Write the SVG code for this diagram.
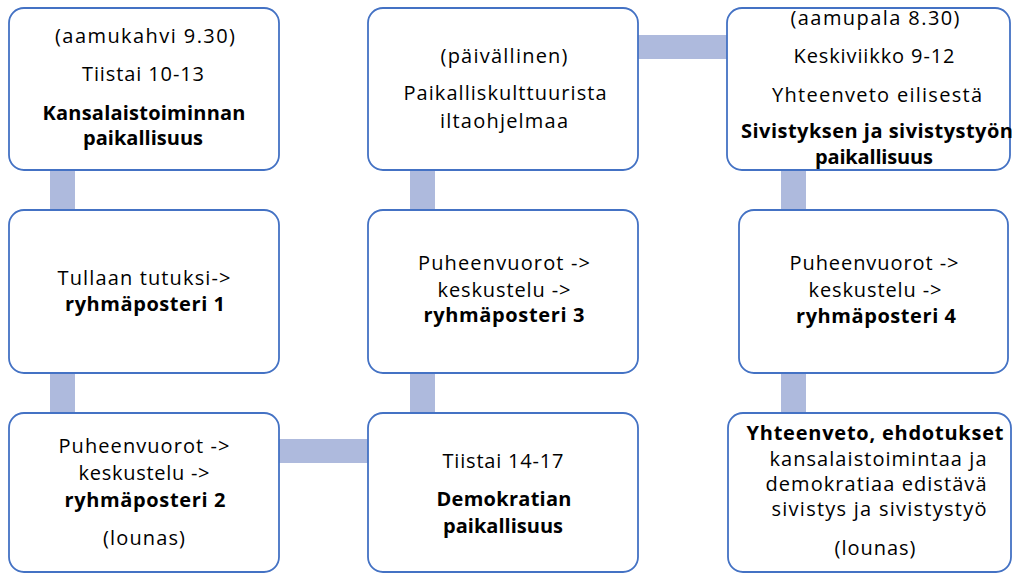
<svg xmlns="http://www.w3.org/2000/svg" width="1012" height="574" viewBox="0 0 1012 574">
<style>
.box{fill:#ffffff;stroke:#4472C4;stroke-width:1.8}
.con{fill:#AEBADD}
text{font-family:"Open Sans","Noto Sans","Liberation Sans",sans-serif;font-size:20px;fill:#000;text-anchor:middle}
.b{font-weight:bold}
</style>
<rect width="1012" height="574" fill="#ffffff"/>
<g id="connectors">
<rect class="con" x="50" y="168" width="25" height="44"/>
<rect class="con" x="50" y="371" width="25" height="44"/>
<rect class="con" x="277" y="439" width="93" height="24"/>
<rect class="con" x="410" y="371" width="25" height="44"/>
<rect class="con" x="410" y="168" width="25" height="44"/>
<rect class="con" x="636" y="35" width="93" height="24"/>
<rect class="con" x="781" y="168" width="25" height="44"/>
<rect class="con" x="781" y="371" width="25" height="44"/>
</g>
<g id="n1">
<rect class="box" x="9" y="8" width="270" height="162" rx="15"/>
<text x="145" y="43" textLength="180" lengthAdjust="spacing">(aamukahvi 9.30)</text>
<text x="143" y="81" textLength="122" lengthAdjust="spacing">Tiistai 10-13</text>
<text class="b" x="144" y="120" textLength="203" lengthAdjust="spacing">Kansalaistoiminnan</text>
<text class="b" x="143" y="145" textLength="120" lengthAdjust="spacing">paikallisuus</text>
</g>
<g id="n2">
<rect class="box" x="9" y="210" width="270" height="163" rx="15"/>
<text x="144" y="285" textLength="173" lengthAdjust="spacing">Tullaan tutuksi-&gt;</text>
<text class="b" x="145" y="311" textLength="160" lengthAdjust="spacing">ryhmäposteri 1</text>
</g>
<g id="n3">
<rect class="box" x="9" y="413" width="270" height="159" rx="15"/>
<text x="144" y="453" textLength="171" lengthAdjust="spacing">Puheenvuorot -&gt;</text>
<text x="144" y="480" textLength="131" lengthAdjust="spacing">keskustelu -&gt;</text>
<text class="b" x="145" y="507" textLength="161" lengthAdjust="spacing">ryhmäposteri 2</text>
<text x="144" y="545" textLength="82" lengthAdjust="spacing">(lounas)</text>
</g>
<g id="n4">
<rect class="box" x="368" y="8" width="270" height="162" rx="15"/>
<text x="504" y="63" textLength="127" lengthAdjust="spacing">(päivällinen)</text>
<text x="505" y="100" textLength="203" lengthAdjust="spacing">Paikalliskulttuurista</text>
<text x="504" y="128" textLength="128" lengthAdjust="spacing">iltaohjelmaa</text>
</g>
<g id="n5">
<rect class="box" x="368" y="210" width="270" height="163" rx="15"/>
<text x="504" y="270" textLength="172" lengthAdjust="spacing">Puheenvuorot -&gt;</text>
<text x="504" y="297" textLength="133" lengthAdjust="spacing">keskustelu -&gt;</text>
<text class="b" x="504" y="322" textLength="161" lengthAdjust="spacing">ryhmäposteri 3</text>
</g>
<g id="n6">
<rect class="box" x="368" y="413" width="270" height="159" rx="15"/>
<text x="503" y="468" textLength="121" lengthAdjust="spacing">Tiistai 14-17</text>
<text class="b" x="504" y="506" textLength="135" lengthAdjust="spacing">Demokratian</text>
<text class="b" x="503" y="533" textLength="120" lengthAdjust="spacing">paikallisuus</text>
</g>
<g id="n7">
<rect class="box" x="727" y="8" width="283" height="162" rx="15"/>
<text x="875" y="25" textLength="169" lengthAdjust="spacing">(aamupala 8.30)</text>
<text x="874" y="63" textLength="161" lengthAdjust="spacing">Keskiviikko 9-12</text>
<text x="877" y="102" textLength="210" lengthAdjust="spacing">Yhteenveto eilisestä</text>
<text class="b" x="877" y="138" textLength="272" lengthAdjust="spacing">Sivistyksen ja sivistystyön</text>
<text class="b" x="874" y="164" textLength="118" lengthAdjust="spacing">paikallisuus</text>
</g>
<g id="n8">
<rect class="box" x="739" y="210" width="269" height="163" rx="15"/>
<text x="874" y="270" textLength="169" lengthAdjust="spacing">Puheenvuorot -&gt;</text>
<text x="875" y="297" textLength="133" lengthAdjust="spacing">keskustelu -&gt;</text>
<text class="b" x="876" y="323" textLength="160" lengthAdjust="spacing">ryhmäposteri 4</text>
</g>
<g id="n9">
<rect class="box" x="728" y="413" width="283" height="159" rx="15"/>
<text class="b" x="875" y="440" textLength="257" lengthAdjust="spacing">Yhteenveto, ehdotukset</text>
<text x="878" y="466" textLength="217" lengthAdjust="spacing">kansalaistoimintaa ja</text>
<text x="876" y="491" textLength="221" lengthAdjust="spacing">demokratiaa edistävä</text>
<text x="879" y="516" textLength="215" lengthAdjust="spacing">sivistys ja sivistystyö</text>
<text x="875" y="555" textLength="81" lengthAdjust="spacing">(lounas)</text>
</g>
</svg>
